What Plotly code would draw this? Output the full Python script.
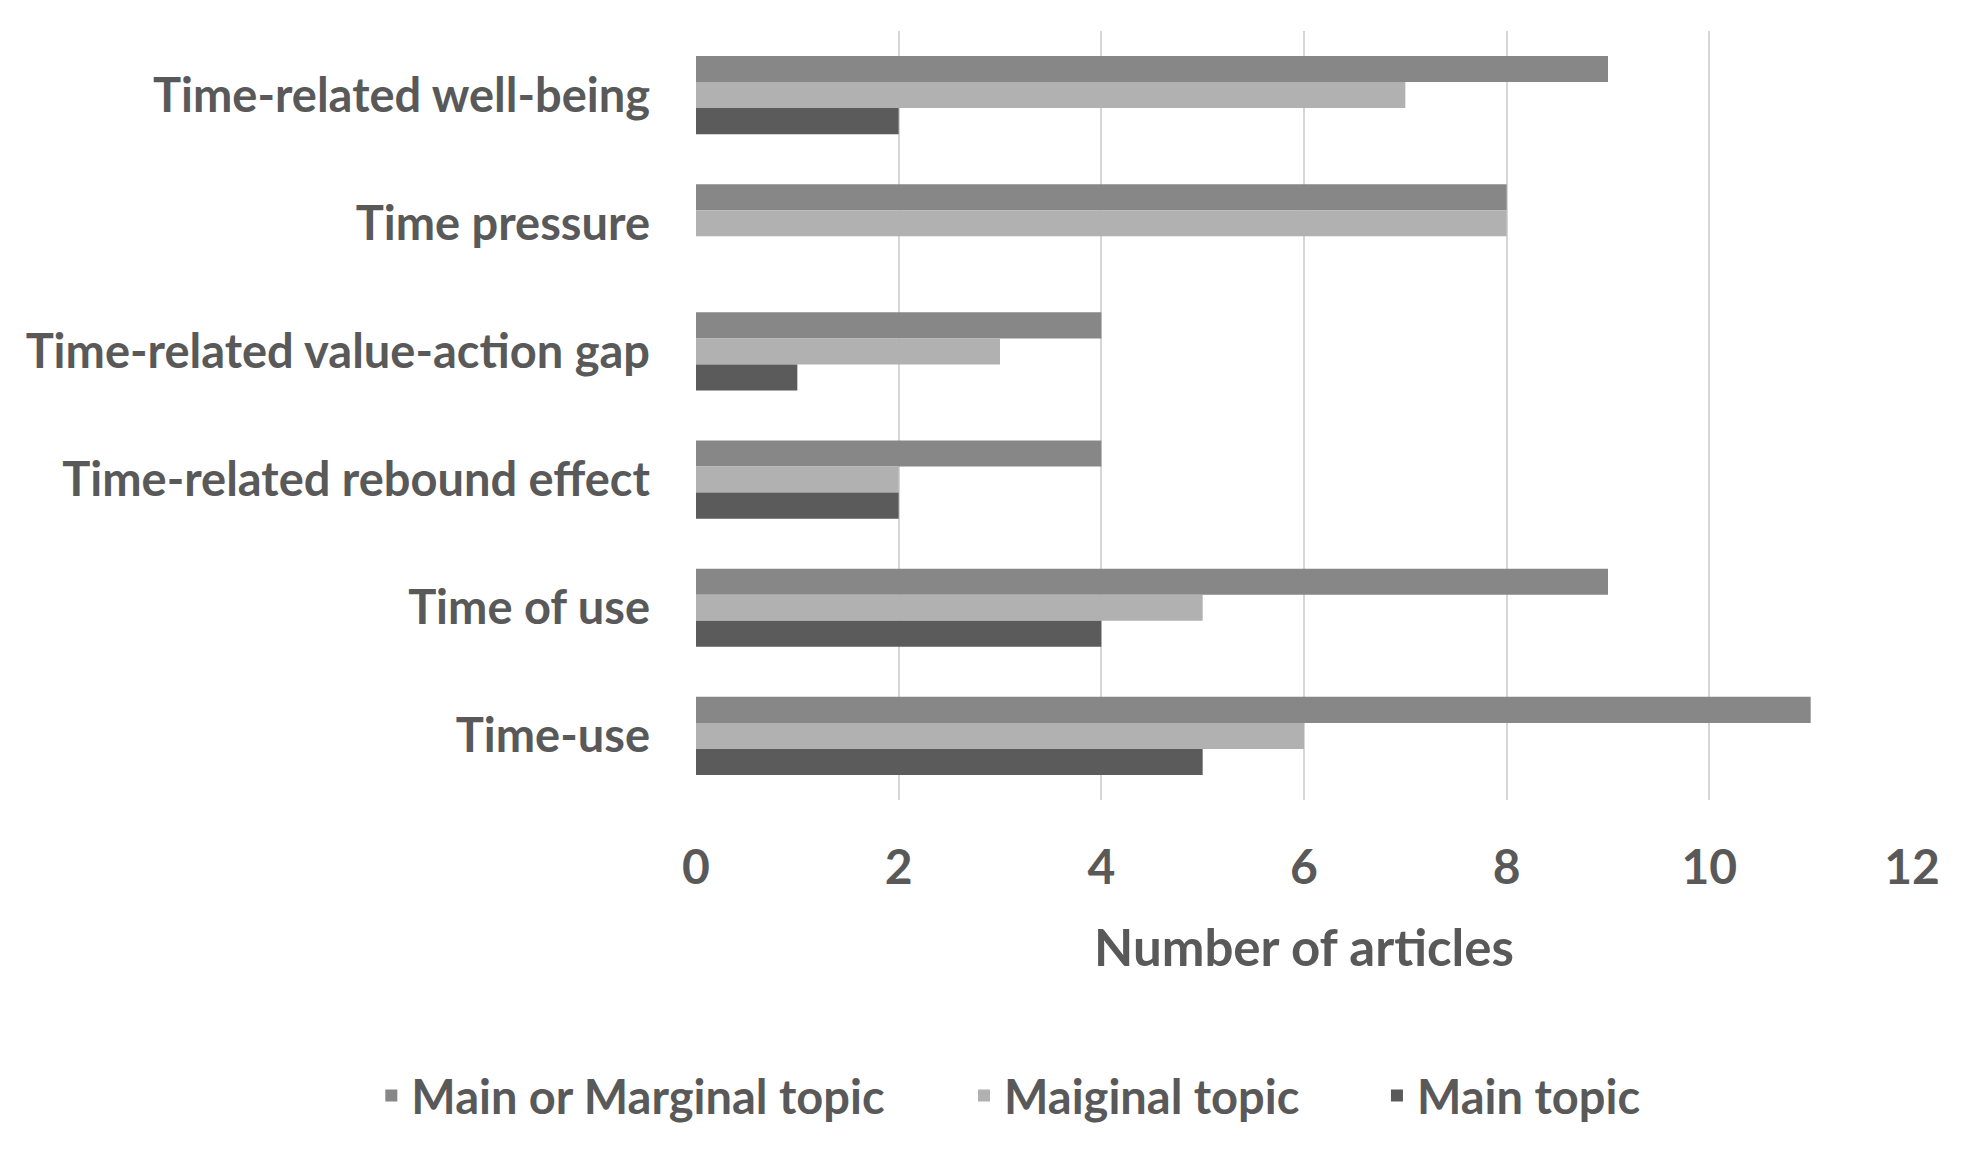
import plotly.graph_objects as go

categories = ["Time-related well-being", "Time pressure", "Time-related value-action gap",
              "Time-related rebound effect", "Time of use", "Time-use"]
main_or_marginal = [9, 8, 4, 4, 9, 11]
maiginal = [7, 8, 3, 2, 5, 6]
main = [2, 0, 1, 2, 4, 5]
x_ticks = [0, 2, 4, 6, 8, 10, 12]

series = [
    ("Main or Marginal topic", main_or_marginal, "#878787", "legend", -0.267),
    ("Maiginal topic", maiginal, "#b1b1b1", "legend2", 0.2204),
    ("Main topic", main, "#5b5b5b", "legend3", 0.560),
]

FONT = "Lato, 'Open Sans', sans-serif"
TXT = "#595959"
FS = 47

fig = go.Figure()
for name, vals, col, lg, _ in series:
    fig.add_trace(go.Bar(
        y=categories, x=vals, name=name, orientation="h",
        marker=dict(color=col, line=dict(width=0)), legend=lg,
    ))

legends = {}
for name, vals, col, lg, lx in series:
    legends[lg] = dict(orientation="h", x=lx, xanchor="left", y=-0.385, yanchor="middle",
                       font=dict(family=FONT, size=FS, color=TXT, weight="bold"),
                       bgcolor="rgba(0,0,0,0)")

fig.update_layout(
    width=1954, height=1138,
    paper_bgcolor="white", plot_bgcolor="white",
    barmode="group", bargap=0.39, bargroupgap=0,
    margin=dict(l=688, r=50, t=23, b=346),
    font=dict(family=FONT, size=FS, color=TXT, weight="bold"),
    showlegend=True,
    **legends,
)
fig.update_xaxes(
    range=[0, 12], tickvals=x_ticks, showgrid=True, gridcolor="#d6d6d6", gridwidth=2,
    zeroline=False, showline=False, ticks="", ticklabelstandoff=35,
    tickfont=dict(family=FONT, size=48, color=TXT, weight="bold"),
    title=dict(text="Number of articles",
               font=dict(family=FONT, size=51, color=TXT, weight="bold"), standoff=37),
)
fig.update_yaxes(
    autorange="reversed", showgrid=False, zeroline=False, showline=False, ticks="",
    tickfont=dict(family=FONT, size=FS, color=TXT, weight="bold"), ticklabelstandoff=45,
)
fig.write_html("out.html")
